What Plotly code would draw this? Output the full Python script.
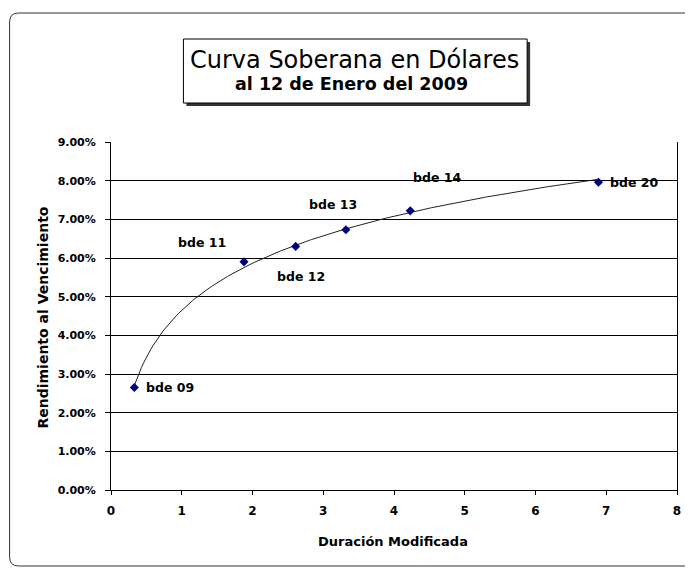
import numpy as np
import plotly.graph_objects as go

# ---- data ----
bond_names = ["bde 09", "bde 11", "bde 12", "bde 13", "bde 14", "bde 20"]
mod_duration = [0.33, 1.88, 2.61, 3.32, 4.23, 6.89]
ytm = [0.0265, 0.0590, 0.0630, 0.0673, 0.0722, 0.0796]

x_ticks = [0, 1, 2, 3, 4, 5, 6, 7, 8]
title_line1 = "Curva Soberana en Dólares"
title_line2 = "al 12 de Enero del 2009"
x_title = "Duración Modificada"
y_title = "Rendimiento al Vencimiento"

# ---- label offsets (pixels) ----
label_style = [
    dict(xanchor="left", xshift=10, yshift=0),
    dict(xanchor="center", xshift=-42, yshift=19),
    dict(xanchor="center", xshift=5, yshift=-30),
    dict(xanchor="center", xshift=-13, yshift=25),
    dict(xanchor="center", xshift=27, yshift=33),
    dict(xanchor="left", xshift=10, yshift=0),
]

OFF = 8  # default page body margin
W, H = 693 - OFF, 571 - OFF
L, R, T, B = 110.5 - OFF, 677 - OFF, 142 - OFF, 490 - OFF

def px(xp):
    return (xp - OFF - L) / (R - L)

def py(yp):
    return (B - (yp - OFF)) / (B - T)

# logarithmic trendline fitted to the points (as Excel does)
lx = np.log(np.array(mod_duration))
a, b = np.polyfit(lx, np.array(ytm), 1)
xt = np.linspace(min(mod_duration), max(mod_duration), 200)
yt = a * np.log(xt) + b

FONT = "DejaVu Sans, Verdana, sans-serif"

fig = go.Figure()
fig.add_trace(go.Scatter(x=xt, y=yt, mode="lines",
                         line=dict(color="#222222", width=1), hoverinfo="skip",
                         showlegend=False))
fig.add_trace(go.Scatter(x=mod_duration, y=ytm, mode="markers",
                         marker=dict(symbol="diamond", size=7, color="#000080"),
                         showlegend=False))

annotations = []
for name, xv, yv, st in zip(bond_names, mod_duration, ytm, label_style):
    annotations.append(dict(x=xv, y=yv, xref="x", yref="y", text="<b>%s</b>" % name,
                            showarrow=False, xanchor=st["xanchor"], yanchor="middle",
                            xshift=st["xshift"], yshift=st["yshift"],
                            font=dict(family=FONT, size=12.5, color="black")))

annotations += [
    dict(x=px(354), y=py(60), xref="paper", yref="paper", text=title_line1,
         showarrow=False, xanchor="center", yanchor="middle",
         font=dict(family=FONT, size=24, color="black")),
    dict(x=px(351), y=py(84), xref="paper", yref="paper", text="<b>%s</b>" % title_line2,
         showarrow=False, xanchor="center", yanchor="middle",
         font=dict(family=FONT, size=17.5, color="black")),
    dict(x=px(393), y=py(541), xref="paper", yref="paper", text="<b>%s</b>" % x_title,
         showarrow=False, xanchor="center", yanchor="middle",
         font=dict(family=FONT, size=13, color="black")),
    dict(x=px(42), y=py(318), xref="paper", yref="paper", text="<b>%s</b>" % y_title,
         showarrow=False, xanchor="center", yanchor="middle", textangle=-90,
         font=dict(family=FONT, size=14, color="black")),
]

# outer rounded border
x0, y0, x1, y1, r = 9, 13, 700, 566, 9
path = ("M {a},{b0} L {c},{b0} L {c},{d} L {a},{d} Q {x0},{d} {x0},{e} L {x0},{f} Q {x0},{b0} {a},{b0} Z"
        .format(a=px(x0 + r), b0=py(y0), c=px(x1), d=py(y1), x0=px(x0),
                e=py(y1 - r), f=py(y0 + r)))
shapes = [
    dict(type="path", path=path, xref="paper", yref="paper",
         line=dict(color="#333333", width=1), layer="below"),
    # title box shadow and box
    dict(type="rect", xref="paper", yref="paper", x0=px(186), x1=px(530),
         y0=py(106), y1=py(42), fillcolor="#333333", line=dict(width=0)),
    dict(type="rect", xref="paper", yref="paper", x0=px(183), x1=px(527),
         y0=py(103), y1=py(39), fillcolor="white", line=dict(color="black", width=1)),
]

fig.update_layout(
    width=W, height=H,
    margin=dict(l=L, r=W - R, t=T, b=H - B, pad=0),
    paper_bgcolor="white", plot_bgcolor="white",
    font=dict(family=FONT, size=12, color="black"),
    showlegend=False,
    annotations=annotations,
    shapes=shapes,
    xaxis=dict(range=[0, 8], tickvals=x_ticks, ticks="outside", ticklen=4,
               tickcolor="black", showgrid=False, zeroline=False,
               showline=True, linecolor="black", linewidth=1, mirror=False,
               tickfont=dict(family=FONT, size=12, color="black", weight="bold"),
               ticklabelstandoff=6, fixedrange=True),
    yaxis=dict(range=[0, 0.09], dtick=0.01, tickformat=".2%", ticks="outside",
               ticklen=5, tickcolor="black", showgrid=True, gridcolor="black",
               gridwidth=1, zeroline=False, showline=True, linecolor="black",
               linewidth=1, mirror=True,
               tickfont=dict(family=FONT, size=11, color="black", weight="bold"),
               ticklabelstandoff=7, fixedrange=True),
)

fig.write_html("out.html")
